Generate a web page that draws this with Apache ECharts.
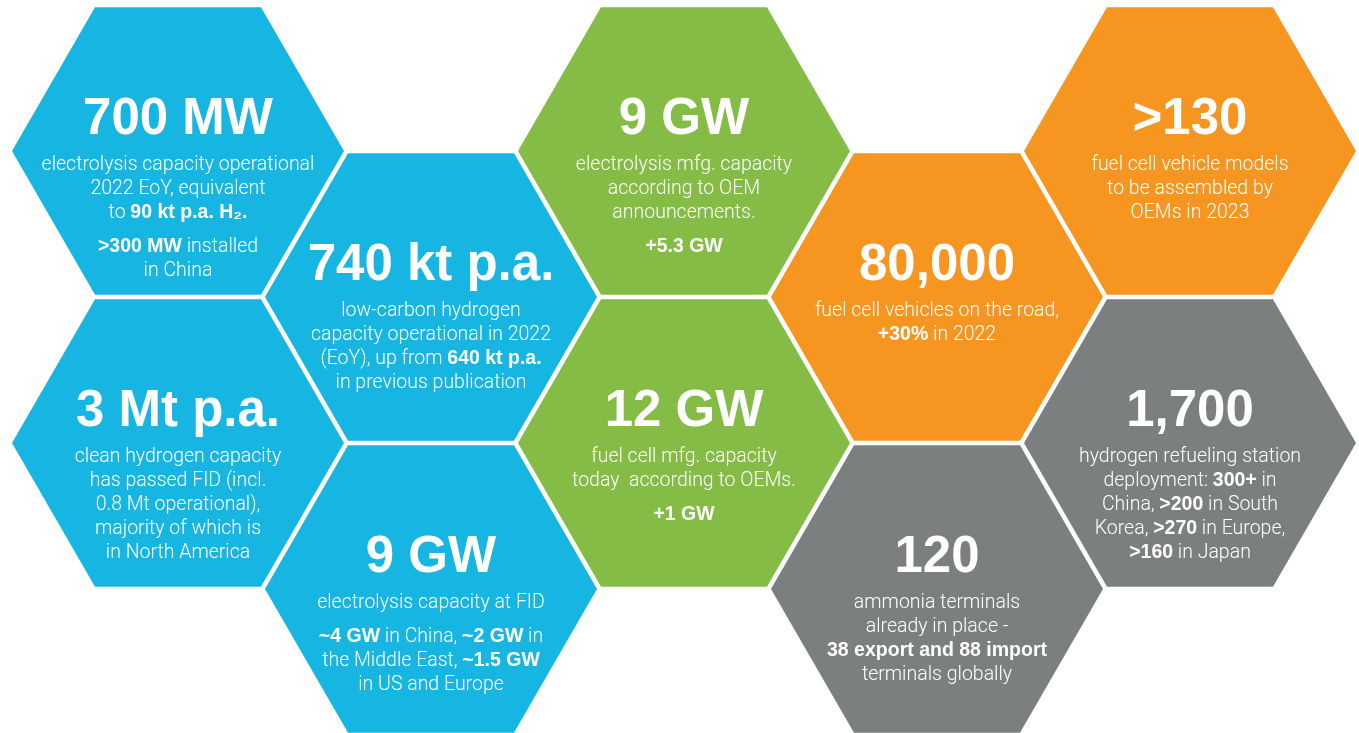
<!DOCTYPE html>
<html><head><meta charset="utf-8">
<script src="https://cdn.jsdelivr.net/npm/echarts@6/dist/echarts.min.js"></script>
<style>html,body{margin:0;padding:0;background:#fff;}#c{width:1359px;height:733px;}</style>
</head><body><div id="c"></div>
<script>
// ---- data ----
const headlines = ['700 MW', '740 kt p.a.', '3 Mt p.a.', '9 GW', '9 GW', '12 GW', '80,000', '120', '>130', '1,700'];
const columns   = [0, 1, 0, 1, 2, 2, 3, 3, 4, 4];
const rows      = [0, 1, 2, 3, 0, 2, 1, 3, 0, 2];
const themes    = ['blue', 'blue', 'blue', 'blue', 'green', 'green', 'orange', 'gray', 'orange', 'gray'];
const bodies = [
  ['electrolysis capacity operational\n2022 EoY, equivalent\nto {b|90 kt p.a. H₂.}', '{b|>300 MW} installed\nin China'],
  ['low-carbon hydrogen\ncapacity operational in 2022\n(EoY), up from {b|640 kt p.a.}\nin previous publication'],
  ['clean hydrogen capacity\nhas passed FID (incl.\n0.8 Mt operational),\nmajority of which is\nin North America'],
  ['electrolysis capacity at FID', '{b|~4 GW} in China, {b|~2 GW} in\nthe Middle East, {b|~1.5 GW}\nin US and Europe'],
  ['electrolysis mfg. capacity\naccording to OEM\nannouncements.', '{b|+5.3 GW}'],
  ['fuel cell mfg. capacity\ntoday  according to OEMs.', '{b|+1 GW}'],
  ['fuel cell vehicles on the road,\n{b|+30%} in 2022'],
  ['ammonia terminals\nalready in place -\n{b|38 export and 88 import}\nterminals globally'],
  ['fuel cell vehicle models\nto be assembled by\nOEMs in 2023'],
  ['hydrogen refueling station\ndeployment: {b|300+} in\nChina, {b|>200} in South\nKorea, {b|>270} in Europe,\n{b|>160} in Japan']
];

// ---- styles ----
const palette = { blue: '#17B6E2', green: '#84BC46', orange: '#F6951F', gray: '#7C7F80' };
const HEAD_FONT = '"Liberation Sans", Arial, sans-serif';
const BODY_FONT = 'Roboto, "Liberation Sans", sans-serif';

const data = headlines.map((h, i) => [columns[i], rows[i], i]);

const chart = echarts.init(document.getElementById('c'), null, { renderer: 'canvas' });
chart.setOption({
  backgroundColor: '#ffffff',
  animation: false,
  grid: { left: 178, right: 169, top: 151, bottom: 144, outerBoundsMode: 'none' },
  xAxis: { type: 'value', min: 0, max: 4, show: false },
  yAxis: { type: 'value', min: 0, max: 3, inverse: true, show: false },
  series: [{
    type: 'custom',
    clip: false,
    data: data,
    encode: { x: 0, y: 1 },
    renderItem: function (params, api) {
      const i = api.value(2);
      const c = api.coord([api.value(0), api.value(1)]);
      const step = api.size([1, 0])[0];
      const latticeR = step / 1.5;
      const R = latticeR - 4.6 / Math.sqrt(3);
      const h = R * Math.sqrt(3) / 2;
      const pts = [
        [c[0] - R, c[1]], [c[0] - R / 2, c[1] - h], [c[0] + R / 2, c[1] - h],
        [c[0] + R, c[1]], [c[0] + R / 2, c[1] + h], [c[0] - R / 2, c[1] + h]
      ];
      const bodyText = bodies[i].join('\n{gap| }\n');
      return {
        type: 'group',
        children: [
          { type: 'polygon', shape: { points: pts }, style: { fill: palette[themes[i]] } },
          {
            type: 'text', x: c[0], y: c[1] - 31,
            style: {
              text: headlines[i], fill: '#ffffff', fontSize: 51, fontWeight: 'bold',
              fontFamily: HEAD_FONT, align: 'center', verticalAlign: 'middle'
            }
          },
          {
            type: 'text', x: c[0], y: c[1] + 2,
            style: {
              text: bodyText, fill: '#ffffff', fontSize: 19.5, fontWeight: 300,
              fontFamily: BODY_FONT, lineHeight: 24, align: 'center', verticalAlign: 'top',
              rich: {
                b: { fontSize: 19.5, fontWeight: 'bold', fontFamily: HEAD_FONT, fill: '#ffffff', lineHeight: 24 },
                gap: { fontSize: 2, lineHeight: 10 }
              }
            }
          }
        ]
      };
    }
  }]
});
</script>
</body></html>
